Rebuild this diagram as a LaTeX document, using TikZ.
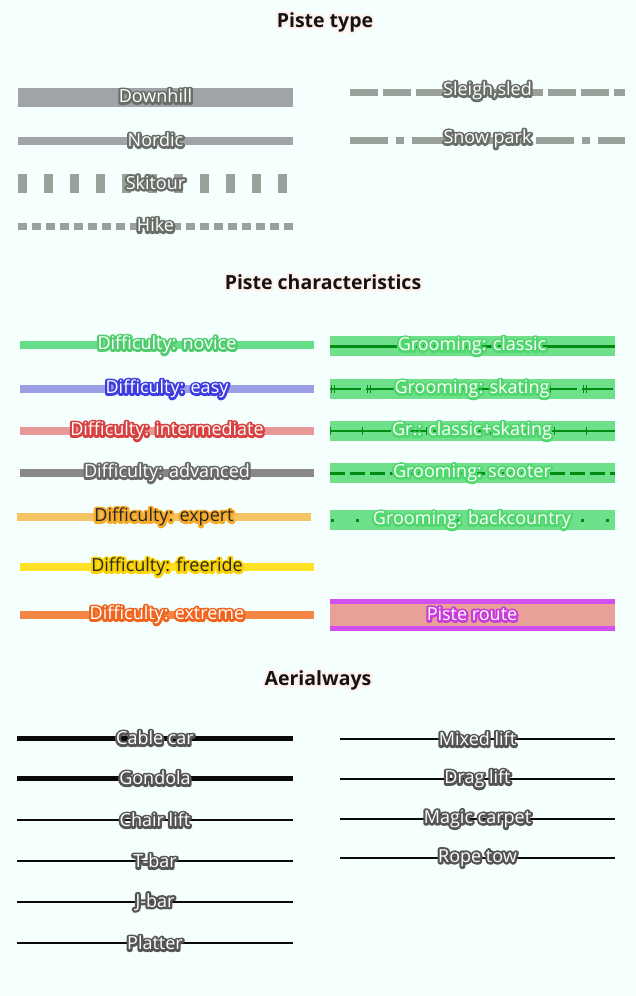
\documentclass[tikz,border=0pt]{standalone}
\usepackage{fontspec}
\setmainfont{Open Sans}
\usetikzlibrary{positioning}
\definecolor{bgcyan}    {RGB}{245, 255, 254}
\definecolor{titleink}  {RGB}{ 20,  20,  20}
\definecolor{titlehalo} {RGB}{255, 240, 235}
\definecolor{pistegray} {RGB}{160, 164, 168}
\definecolor{trailgray} {RGB}{154, 160, 154}
\definecolor{halogray}  {RGB}{105, 110, 105}
\definecolor{novice}    {RGB}{102, 221, 136}
\definecolor{novicedk}  {RGB}{ 80, 205, 110}
\definecolor{easy}      {RGB}{155, 160, 230}
\definecolor{easydk}    {RGB}{ 60,  60, 225}
\definecolor{interm}    {RGB}{232, 152, 152}
\definecolor{intermdk}  {RGB}{215,  65,  65}
\definecolor{advanced}  {RGB}{136, 136, 136}
\definecolor{advanceddk}{RGB}{105, 105, 105}
\definecolor{expert}    {RGB}{244, 196, 100}
\definecolor{expertdk}  {RGB}{245, 170,  40}
\definecolor{freeride}  {RGB}{255, 225,  40}
\definecolor{freeridedk}{RGB}{250, 210,   0}
\definecolor{extreme}   {RGB}{245, 135,  70}
\definecolor{extremedk} {RGB}{240, 100,  30}
\definecolor{darkink}   {RGB}{ 40,  40,  40}
\definecolor{groomband} {RGB}{110, 224, 138}
\definecolor{groomline} {RGB}{  0, 140,  20}
\definecolor{groomhalo} {RGB}{ 80, 215, 110}
\definecolor{routemag}  {RGB}{210,  80, 240}
\definecolor{routefill} {RGB}{232, 160, 152}
\definecolor{routehalo} {RGB}{200,  60, 220}
\definecolor{liftink}   {RGB}{ 10,  10,  10}
\definecolor{lifthalo}  {RGB}{ 85,  85,  85}
% stroked copy under the filled text gives the halo
\newcommand{\halo}[2]{\leavevmode\rlap{\color{#1}\special{pdf:literal direct 1 Tr 4.5 w 1 j}#2\special{pdf:literal direct 0 Tr}}#2}
\tikzset{
  title/.style={font=\fontsize{19.5}{22}\selectfont\bfseries, text=titleink, inner sep=0pt},
  lbl/.style={font=\fontsize{18}{20}\selectfont, text=white, inner sep=0pt},
  diff/.style={draw=#1, line width=8pt},
  groom/.style={draw=groomband, line width=20pt},
  groominner/.style={draw=groomline, line width=3pt},
  cable/.style={draw=liftink, line width=5pt},
  lift/.style={draw=liftink, line width=2pt},
}

\begin{document}
\begin{tikzpicture}[x=1pt, y=-1pt]
\fill[bgcyan] (0,0) rectangle (636,996);
\useasboundingbox (0,0) rectangle (636,996);

% ── Piste type ────────────────────────────────────────────────────────────────
\node[title] (tType) at (325,22) {\halo{titlehalo}{Piste type}};

\draw[pistegray, line width=19pt] (18,97.5) -- (293,97.5)
  node[midway, lbl, yshift=1.5pt] (lDownhill) {\halo{halogray}{Downhill}};
\draw[pistegray, line width=8pt] (18,141) -- (293,141)
  node[midway, lbl, yshift=1pt] (lNordic) {\halo{halogray}{Nordic}};
\draw[trailgray, line width=19pt, dash pattern=on 9pt off 17pt] (18,183.5) -- (293,183.5)
  node[midway, lbl, yshift=1pt] (lSkitour) {\halo{halogray}{Skitour}};
\draw[trailgray, line width=7pt, dash pattern=on 9pt off 5pt] (18,226) -- (293,226)
  node[midway, lbl, yshift=1pt] (lHike) {\halo{halogray}{Hike}};

\draw[trailgray, line width=7pt, dash pattern=on 28pt off 5pt] (350,92) -- (625,92)
  node[midway, lbl, yshift=1pt] (lSleigh) {\halo{halogray}{Sleigh,sled}};
\draw[trailgray, line width=7pt, dash pattern=on 38pt off 8pt on 8pt off 8pt] (350,140) -- (625,140)
  node[midway, lbl, yshift=1pt] (lSnowpark) {\halo{halogray}{Snow park}};

% ── Piste characteristics ─────────────────────────────────────────────────────
\node[title] (tChar) at (323,282) {\halo{titlehalo}{Piste characteristics}};

\draw[diff=novice] (20,345) -- (314,345)
  node[midway, lbl] (lNovice) {\halo{novicedk}{Difficulty: novice}};
\draw[diff=easy] (20,389) -- (314,389)
  node[midway, lbl] (lEasy) {\halo{easydk}{Difficulty: easy}};
\draw[diff=interm] (20,431) -- (314,431)
  node[midway, lbl] (lInterm) {\halo{intermdk}{Difficulty: intermediate}};
\draw[diff=advanced] (20,473) -- (314,473)
  node[midway, lbl] (lAdvanced) {\halo{advanceddk}{Difficulty: advanced}};
\draw[diff=expert] (17,517) -- (311,517)
  node[midway, lbl, text=darkink] (lExpert) {\halo{expertdk}{Difficulty: expert}};
\draw[diff=freeride] (20,567) -- (314,567)
  node[midway, lbl, text=darkink] (lFreeride) {\halo{freeridedk}{Difficulty: freeride}};
\draw[diff=extreme] (20,615) -- (314,615)
  node[midway, lbl] (lExtreme) {\halo{extremedk}{Difficulty: extreme}};

% grooming bands
\draw[groom] (330,346) -- (615,346);
\draw[groominner] (330,346) -- (615,346);

\draw[groom] (330,389) -- (615,389);
\draw[groominner, line width=2.5pt, dash pattern=on 31pt off 5pt] (330,389) -- (615,389);
\foreach \x in {330,366,...,582}
  \draw[groomline, line width=1pt] (\x+1,385) -- (\x+1,393) (\x+4,385) -- (\x+4,393);

\draw[groom] (330,431) -- (615,431);
\draw[groominner, line width=2.5pt] (330,431) -- (615,431);
\foreach \x in {330,362,...,586}
  \draw[groomline, line width=1pt] (\x,427) -- (\x,435);

\draw[groom] (330,473) -- (615,473);
\draw[groominner, dash pattern=on 15pt off 5pt] (330,473) -- (615,473);

\draw[groom] (330,520) -- (615,520);
\draw[groominner, dash pattern=on 3pt off 22pt] (331,520) -- (615,520);

\node[lbl] (lClassic)  at (472,346) {\halo{groomhalo}{Grooming: classic}};
\node[lbl] (lSkating)  at (472,389) {\halo{groomhalo}{Grooming: skating}};
\node[lbl] (lBoth)     at (472,431) {\halo{groomhalo}{Gr.: classic+skating}};
\node[lbl] (lScooter)  at (472,473) {\halo{groomhalo}{Grooming: scooter}};
\node[lbl] (lBackctry) at (472,520) {\halo{groomhalo}{Grooming: backcountry}};

% piste route
\fill[routefill] (330,599) rectangle (615,631);
\fill[routemag] (330,599) rectangle (615,604);
\fill[routemag] (330,626) rectangle (615,631);
\node[lbl] (lRoute) at (472,614) {\halo{routehalo}{Piste route}};

% ── Aerialways ────────────────────────────────────────────────────────────────
\node[title] (tLift) at (318,680) {\halo{titlehalo}{Aerialways}};

\draw[cable] (17,738) -- (293,738)
  node[midway, lbl] (lCable) {\halo{lifthalo}{Cable car}};
\draw[cable] (17,778) -- (293,778)
  node[midway, lbl] (lGondola) {\halo{lifthalo}{Gondola}};
\draw[lift] (17,820) -- (293,820)
  node[midway, lbl] (lChair) {\halo{lifthalo}{Chair lift}};
\draw[lift] (17,861) -- (293,861)
  node[midway, lbl] (lTbar) {\halo{lifthalo}{T-bar}};
\draw[lift] (17,902) -- (293,902)
  node[midway, lbl] (lJbar) {\halo{lifthalo}{J-bar}};
\draw[lift] (17,943) -- (293,943)
  node[midway, lbl] (lPlatter) {\halo{lifthalo}{Platter}};

\draw[lift] (340,739) -- (615,739)
  node[midway, lbl] (lMixed) {\halo{lifthalo}{Mixed lift}};
\draw[lift] (340,779) -- (615,779)
  node[midway, lbl] (lDrag) {\halo{lifthalo}{Drag lift}};
\draw[lift] (340,819) -- (615,819)
  node[midway, lbl] (lMagic) {\halo{lifthalo}{Magic carpet}};
\draw[lift] (340,858) -- (615,858)
  node[midway, lbl] (lRope) {\halo{lifthalo}{Rope tow}};

\end{tikzpicture}
\end{document}
